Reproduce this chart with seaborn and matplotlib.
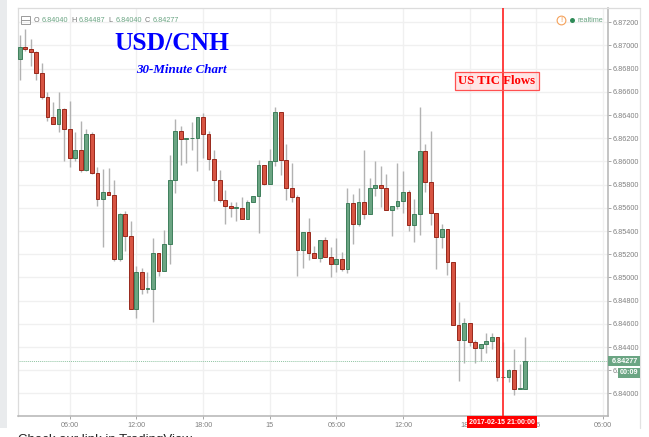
import numpy as np
import pandas as pd
import seaborn as sns
import matplotlib
matplotlib.use("Agg")
import matplotlib.pyplot as plt
from matplotlib.lines import Line2D
from matplotlib.patches import Rectangle

opens = [6.8688,6.8699,6.8697,6.8694,6.8676,6.8656,6.8638,6.8632,6.8645,6.8628,
         6.8603,6.8610,6.8593,6.8624,6.8590,6.8568,6.8574,6.8571,6.8516,6.8555,
         6.8536,6.8473,6.8505,6.8490,6.8490,6.8521,6.8506,6.8529,6.8584,6.8626,
         6.8619,6.8620,6.8620,6.8638,6.8624,6.8602,6.8584,6.8567,6.8562,6.8560,
         6.8560,6.8550,6.8565,6.8570,6.8597,6.8581,6.8600,6.8643,6.8601,6.8577,
         6.8569,6.8524,6.8539,6.8521,6.8517,6.8532,6.8518,6.8512,6.8516,6.8507,
         6.8564,6.8546,6.8565,6.8555,6.8577,6.8580,6.8577,6.8558,6.8562,6.8566,
         6.8574,6.8545,6.8555,6.8609,6.8582,6.8556,6.8535,6.8542,6.8513,6.8459,
         6.8446,6.8461,6.8444,6.8439,6.8443,6.8445,6.8449,6.8414,6.8414,6.8420,
         6.8404,6.8404]
highs = [6.8709,6.8714,6.8706,6.8695,6.8685,6.8660,6.8651,6.8660,6.8646,6.8652,
         6.8625,6.8635,6.8628,6.8625,6.8595,6.85935,6.8594,6.8584,6.8556,6.8557,
         6.8549,6.8510,6.8508,6.8505,6.8534,6.8521,6.8541,6.8606,6.8637,6.8631,
         6.8620,6.8634,6.8638,6.8642,6.8626,6.8610,6.8593,6.8575,6.8565,6.8565,
         6.8569,6.8567,6.8570,6.8601,6.8597,6.8611,6.8647,6.8643,6.8615,6.8599,
         6.8571,6.8539,6.8551,6.8527,6.8532,6.8535,6.8526,6.8534,6.8522,6.8577,
         6.8572,6.8577,6.8610,6.8586,6.8600,6.8596,6.8589,6.8562,6.8599,6.8592,
         6.8575,6.8568,6.8647,6.8615,6.8626,6.8556,6.8546,6.8542,6.8513,6.8479,
         6.8465,6.8461,6.8446,6.8443,6.8452,6.8452,6.8449,6.8444,6.8421,6.8438,
         6.84255,6.84487]
lows =  [6.8670,6.8695,6.8682,6.8670,6.8654,6.8635,6.8632,6.8625,6.8600,6.8595,
         6.8600,6.8591,6.8592,6.8589,6.8562,6.8526,6.8571,6.8514,6.8514,6.8523,
         6.8473,6.8465,6.8486,6.8487,6.8462,6.8501,6.8506,6.8512,6.8573,6.8597,
         6.8599,6.8610,6.8592,6.8603,6.8593,6.8566,6.8565,6.8546,6.8552,6.8549,
         6.8550,6.8550,6.8565,6.8538,6.8580,6.8581,6.8596,6.8588,6.8567,6.8565,
         6.8501,6.8508,6.8515,6.8517,6.8513,6.8518,6.8500,6.8505,6.8506,6.8504,
         6.8529,6.8544,6.8550,6.8555,6.8570,6.8561,6.8558,6.8536,6.8559,6.8556,
         6.8540,6.8531,6.8537,6.8574,6.8545,6.8507,6.8525,6.8502,6.8459,6.8411,
         6.8426,6.8441,6.8426,6.8428,6.8435,6.8438,6.8411,6.8413,6.8410,6.8399,
         6.8404,6.84040]
closes = [6.8699,6.8697,6.8694,6.8676,6.8656,6.8638,6.8632,6.8645,6.8628,6.8603,
          6.8610,6.8593,6.8624,6.8590,6.8568,6.8574,6.8571,6.8516,6.8555,6.8536,
          6.8473,6.8505,6.8490,6.8490,6.8521,6.8506,6.8529,6.8584,6.8626,6.8619,
          6.8620,6.8620,6.8638,6.8624,6.8602,6.8584,6.8567,6.8562,6.8560,6.8560,
          6.8550,6.8565,6.8570,6.8597,6.8581,6.8600,6.8643,6.8601,6.8577,6.8569,
          6.8524,6.8539,6.8521,6.8517,6.8532,6.8518,6.8512,6.8516,6.8507,6.8564,
          6.8546,6.8565,6.8555,6.8577,6.8580,6.8577,6.8558,6.8562,6.8566,6.8574,
          6.8545,6.8555,6.8609,6.8582,6.8556,6.8535,6.8542,6.8513,6.8459,6.8446,
          6.8461,6.8444,6.8439,6.8443,6.8445,6.8449,6.8414,6.8414,6.8420,6.8404,
          6.8404,6.84277]
ytick_values = [6.84, 6.842, 6.844, 6.846, 6.848, 6.85, 6.852, 6.854, 6.856, 6.858,
                6.86, 6.862, 6.864, 6.866, 6.868, 6.87, 6.872]
xtick_positions = [9, 21, 33, 45, 57, 69, 81, 93, 105]
xtick_labels = ["06:00", "12:00", "18:00", "15", "06:00", "12:00", "18:00", "16", "06:00"]
event_index = 87
last_price = 6.84277

W, H = 649, 437
UP, UP_EDGE = "#6ba583", "#3f7f5c"
DOWN, DOWN_EDGE = "#d75442", "#98291c"
GRID = "#f0f0f0"
TICKC = "#808080"

sns.set_theme(style="white", rc={"font.family": ["Liberation Sans", "DejaVu Sans"]})
fig = plt.figure(figsize=(W / 100, H / 100), dpi=100, facecolor="white")


def fx(x):
    return x / W


def fy(y):
    return 1 - y / H


ax = fig.add_axes([fx(17.5), fy(416), (607.7 - 17.5) / W, (416 - 8) / H], facecolor="white")

df = pd.DataFrame({"idx": np.arange(len(opens)), "o": opens, "h": highs, "l": lows, "c": closes})
df["up"] = df["c"] >= df["o"]
df["bottom"] = df[["o", "c"]].min(axis=1)
df["height"] = (df["o"] - df["c"]).abs().clip(lower=0.00006)

ax.vlines(df["idx"], df["l"], df["h"], color="#b2b2b2", lw=1.0, zorder=2)
for flag, fc, ec in [(True, UP, UP_EDGE), (False, DOWN, DOWN_EDGE)]:
    sub = df[df["up"] == flag]
    sns.barplot(data=sub, x="idx", y="height", native_scale=True, errorbar=None, width=0.68,
                bottom=sub["bottom"].to_numpy(), color=fc, saturation=1,
                edgecolor=ec, linewidth=0.7, zorder=3, ax=ax)

ax.set_xlim(-0.40, 105.85)
ax.set_ylim(6.83806, 6.87323)
ax.set_xlabel("")
ax.set_ylabel("")
ax.set_xticks(xtick_positions, xtick_labels)
ax.set_yticks(ytick_values, [f"{v:.5f}" for v in ytick_values])
ax.yaxis.tick_right()
ax.grid(True, color=GRID, lw=1.0, zorder=0)
ax.set_axisbelow(True)
ax.tick_params(axis="x", length=2, width=0.6, color="#999999", labelsize=5.2, labelcolor=TICKC, pad=2, bottom=True)
ax.tick_params(axis="y", length=2, width=0.6, color="#999999", labelsize=5.2, labelcolor=TICKC, pad=1.5, right=True)
for s in ["top", "left"]:
    ax.spines[s].set_color("#dcdcdc")
    ax.spines[s].set_linewidth(0.9)
for s in ["right", "bottom"]:
    ax.spines[s].set_color("#b4b4b4")
    ax.spines[s].set_linewidth(1.1)

ax.axhline(last_price, color="#8fc4a2", lw=0.7, ls=(0, (1, 1)), zorder=2.5)
ax.axvline(event_index, color="#ff1f1f", lw=1.2, zorder=6)

# page furniture
fig.add_artist(Rectangle((0, fy(428)), fx(7), 428 / H, transform=fig.transFigure, fc="#e9ebed", ec="none", zorder=-5))
fig.add_artist(Line2D([fx(640), fx(640)], [fy(7.5), fy(428)], color="#e2e2e2", lw=0.9))
fig.add_artist(Line2D([fx(607.7), fx(640)], [fy(7.5), fy(7.5)], color="#dcdcdc", lw=0.9))

# title texts
fig.text(fx(171.5), fy(43.7), "USD/CNH", color="#0000ff", family="Liberation Serif", weight="bold",
         fontsize=18.4, ha="center", va="center")
fig.text(fx(181.3), fy(69.7), "30-Minute Chart", color="#0000ff", family="Liberation Serif", weight="bold",
         style="italic", fontsize=9.4, ha="center", va="center")

# OHLC header
fig.add_artist(Rectangle((fx(21), fy(24.2)), 8.5 / W, 8 / H, transform=fig.transFigure, fc="none", ec="#9a9a9a", lw=0.7))
fig.add_artist(Line2D([fx(21), fx(29.5)], [fy(20), fy(20)], color="#9a9a9a", lw=0.7))
for x, txt, col in [(33.5, "O", "#777777"), (41.7, "6.84040", UP), (71, "H", "#777777"), (79, "6.84487", UP),
                    (108.3, "L", "#777777"), (115.3, "6.84040", UP), (144.7, "C", "#777777"), (152.3, "6.84277", UP)]:
    fig.text(fx(x), fy(20), txt, color=col, fontsize=5.2, ha="left", va="center")

# realtime badge
fig.add_artist(Line2D([fx(561.3)], [fy(20)], marker="o", ms=6.3, mfc="white", mec="#f5a15a", mew=0.8, transform=fig.transFigure))
fig.text(fx(561.3), fy(20), "!", color="#f0964a", fontsize=5.2, ha="center", va="center")
fig.add_artist(Line2D([fx(572.3)], [fy(20)], marker="o", ms=3.6, mfc="#2e8b57", mec="none", transform=fig.transFigure))
fig.text(fx(577.7), fy(20), "realtime", color=UP, fontsize=5.2, ha="left", va="center")

# event annotation
fig.add_artist(Rectangle((fx(455.3), fy(90.3)), 83.4 / W, 18 / H, transform=fig.transFigure,
                         fc="#ff0000", alpha=0.10, ec="none", zorder=7))
fig.add_artist(Rectangle((fx(455.3), fy(90.3)), 83.4 / W, 18 / H, transform=fig.transFigure,
                         fc="none", ec="#ff5050", lw=0.9, zorder=7))
fig.text(fx(497), fy(81.3), "US TIC Flows", color="#ff0000", family="Liberation Serif", weight="bold",
         fontsize=9.2, ha="center", va="center", zorder=8)

# last-price and time boxes
fig.add_artist(Rectangle((fx(608.3), fy(366)), 31.7 / W, 9.7 / H, transform=fig.transFigure, fc=UP, ec="none", zorder=7))
fig.text(fx(612), fy(361.3), "6.84277", color="white", fontsize=5.2, weight="bold", ha="left", va="center", zorder=8)
fig.add_artist(Rectangle((fx(618), fy(378)), 22 / W, 10.3 / H, transform=fig.transFigure, fc=UP, ec="none", zorder=7))
fig.text(fx(629), fy(373), "00:09", color="white", fontsize=5.2, weight="bold", ha="center", va="center", zorder=8)
fig.add_artist(Rectangle((fx(467), fy(427.7)), 70 / W, 11.7 / H, transform=fig.transFigure, fc="#ff0000", ec="none", zorder=7))
fig.text(fx(502), fy(422.5), "2017-02-15 21:00:00", color="white", fontsize=5.05, weight="bold", ha="center", va="center", zorder=8)

# caption cut by the lower edge
fig.text(fx(18), fy(433.5), "Check our link in TradingView", color="#222222", fontsize=9.5, ha="left", va="top")

fig.savefig("out.png", dpi=100, facecolor="white")
